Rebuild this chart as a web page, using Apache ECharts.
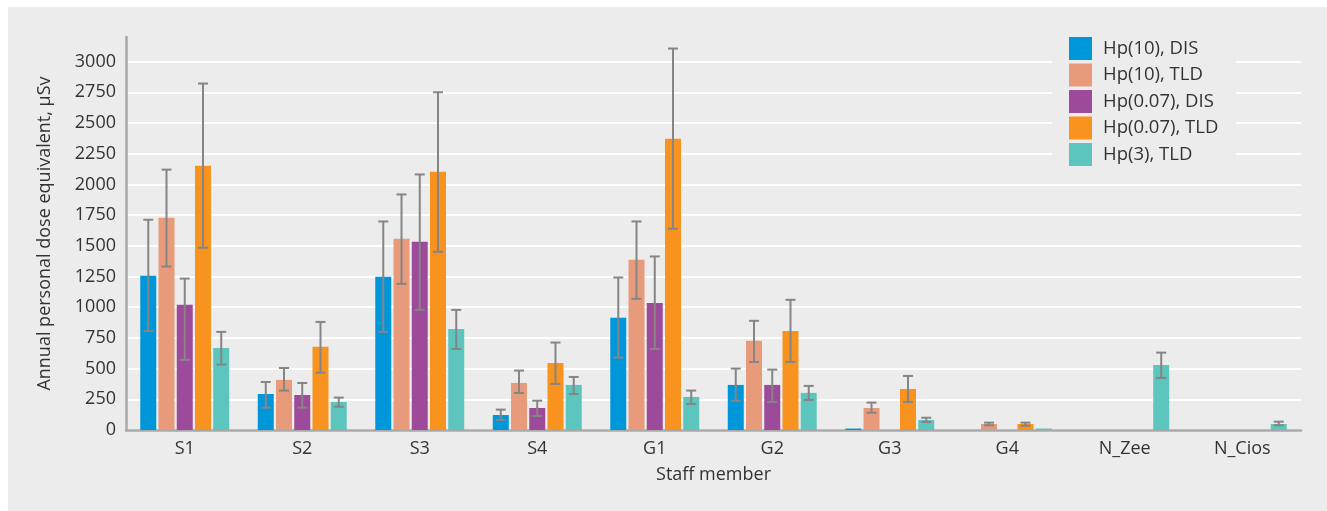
<!DOCTYPE html>
<html>
<head>
<meta charset="utf-8">
<script src="https://cdn.jsdelivr.net/npm/echarts@6/dist/echarts.min.js"></script>
<style>
html,body{margin:0;padding:0;background:#ffffff;}
#panel{position:absolute;left:8px;top:7px;width:1319px;height:504px;background:#ebeceb;}
#chart{position:absolute;left:0;top:0;width:1327px;height:511px;}
</style>
</head>
<body>
<div id="panel"></div>
<div id="chart"></div>
<script>
const categories = ['S1','S2','S3','S4','G1','G2','G3','G4','N_Zee','N_Cios'];
const seriesNames = ['Hp(10), DIS','Hp(10), TLD','Hp(0.07), DIS','Hp(0.07), TLD','Hp(3), TLD'];
const yTicks = [0,250,500,750,1000,1250,1500,1750,2000,2250,2500,2750,3000];

const hp10Dis  = [1255, 293, 1247, 122,  913, 367, 12,  0,   0,   0];
const hp10Tld  = [1728, 408, 1557, 383, 1386, 726, 179, 49,  0,   0];
const hp007Dis = [1019, 285, 1533, 179, 1035, 367, 0,   0,   0,   0];
const hp007Tld = [2152, 677, 2103, 546, 2372, 807, 334, 49,  0,   0];
const hp3Tld   = [668,  228,  823, 367,  269, 302, 82,  12, 530, 49];

const hp10DisLow   = [807, 182,  799,  82,  590, 239, null, null, null, null];
const hp10DisHigh  = [1712, 391, 1698, 166, 1242, 500, null, null, null, null];
const hp10TldLow   = [1331, 321, 1190, 302, 1068, 554, 141, 38, null, null];
const hp10TldHigh  = [2120, 505, 1918, 484, 1698, 889, 223, 60, null, null];
const hp007DisLow  = [571, 182,  978, 114,  660, 228, null, null, null, null];
const hp007DisHigh = [1233, 383, 2081, 239, 1413, 492, null, null, null, null];
const hp007TldLow  = [1484, 467, 1451, 375, 1639, 554, 228, 35, null, null];
const hp007TldHigh = [2821, 880, 2750, 712, 3106, 1060, 440, 60, null, null];
const hp3TldLow    = [533, 190,  660, 293,  212, 245, 65, null, 424, 38];
const hp3TldHigh   = [799, 264,  978, 432,  321, 359, 100, null, 630, 68];

const barValues = [hp10Dis, hp10Tld, hp007Dis, hp007Tld, hp3Tld];
const lows  = [hp10DisLow, hp10TldLow, hp007DisLow, hp007TldLow, hp3TldLow];
const highs = [hp10DisHigh, hp10TldHigh, hp007DisHigh, hp007TldHigh, hp3TldHigh];
const colors = ['#0096da','#e89b7b','#9d4a9a','#f7931e','#5cc5be'];

const BAR_W = 16;
const BAR_GAP_PCT = 14;
const gapPx = BAR_W * BAR_GAP_PCT / 100;
const nSeries = barValues.length;
const fontFam = '"Open Sans", "Noto Sans", sans-serif';

const series = [];
barValues.forEach((vals, i) => {
  series.push({
    name: seriesNames[i],
    type: 'bar',
    data: vals,
    barWidth: BAR_W,
    barGap: BAR_GAP_PCT + '%',
    itemStyle: { color: colors[i] },
    z: 2
  });
});
barValues.forEach((vals, i) => {
  const data = [];
  for (let k = 0; k < categories.length; k++) {
    if (lows[i][k] != null && highs[i][k] != null) data.push([k, lows[i][k], highs[i][k]]);
  }
  series.push({
    type: 'custom',
    name: 'err' + i,
    z: 5,
    silent: true,
    encode: { x: 0, y: [1, 2] },
    data: data,
    renderItem: function (params, api) {
      const xi = api.value(0);
      const lo = api.coord([xi, api.value(1)]);
      const hi = api.coord([xi, api.value(2)]);
      const off = (i - (nSeries - 1) / 2) * (BAR_W + gapPx);
      const x = lo[0] + off;
      const cap = 5;
      const style = { stroke: '#858585', lineWidth: 2 };
      return {
        type: 'group',
        children: [
          { type: 'line', shape: { x1: x, y1: hi[1], x2: x, y2: lo[1] }, style: style },
          { type: 'line', shape: { x1: x - cap, y1: hi[1], x2: x + cap, y2: hi[1] }, style: style },
          { type: 'line', shape: { x1: x - cap, y1: lo[1], x2: x + cap, y2: lo[1] }, style: style }
        ]
      };
    }
  });
});

const chart = echarts.init(document.getElementById('chart'));
chart.setOption({
  animation: false,
  textStyle: { fontFamily: fontFam },
  grid: { left: 126, right: 26, top: 37, bottom: 81, containLabel: false },
  legend: {
    data: seriesNames,
    orient: 'vertical',
    left: 1052,
    top: 18,
    padding: [19, 18, 8, 17],
    backgroundColor: '#ebeceb',
    itemWidth: 23,
    itemHeight: 23,
    itemGap: 3.5,
    icon: 'rect',
    textStyle: { fontSize: 18.5, color: '#333333', fontFamily: fontFam, padding: [0, 0, 0, 6] }
  },
  xAxis: {
    type: 'category',
    data: categories,
    name: 'Staff member',
    nameLocation: 'middle',
    nameGap: 36,
    nameTextStyle: { fontSize: 18, color: '#333333' },
    axisLine: { lineStyle: { color: '#a9a9a9', width: 2.5 } },
    axisTick: { show: false },
    axisLabel: { fontSize: 18, color: '#333333', margin: 10 },
    splitLine: { show: false }
  },
  yAxis: {
    type: 'value',
    min: 0,
    max: 3200,
    interval: 250,
    name: 'Annual personal dose equivalent, µSv',
    nameLocation: 'middle',
    nameGap: 72,
    nameTextStyle: { fontSize: 18, color: '#333333' },
    axisLine: { show: true, lineStyle: { color: '#a9a9a9', width: 2.5 } },
    axisTick: { show: false },
    axisLabel: {
      fontSize: 18, color: '#333333', margin: 10, showMaxLabel: false,
      formatter: v => (yTicks.indexOf(v) >= 0 ? String(v) : '')
    },
    splitLine: { show: true, showMaxLine: false, lineStyle: { color: '#ffffff', width: 2 } }
  },
  series: series
});
</script>
</body>
</html>
